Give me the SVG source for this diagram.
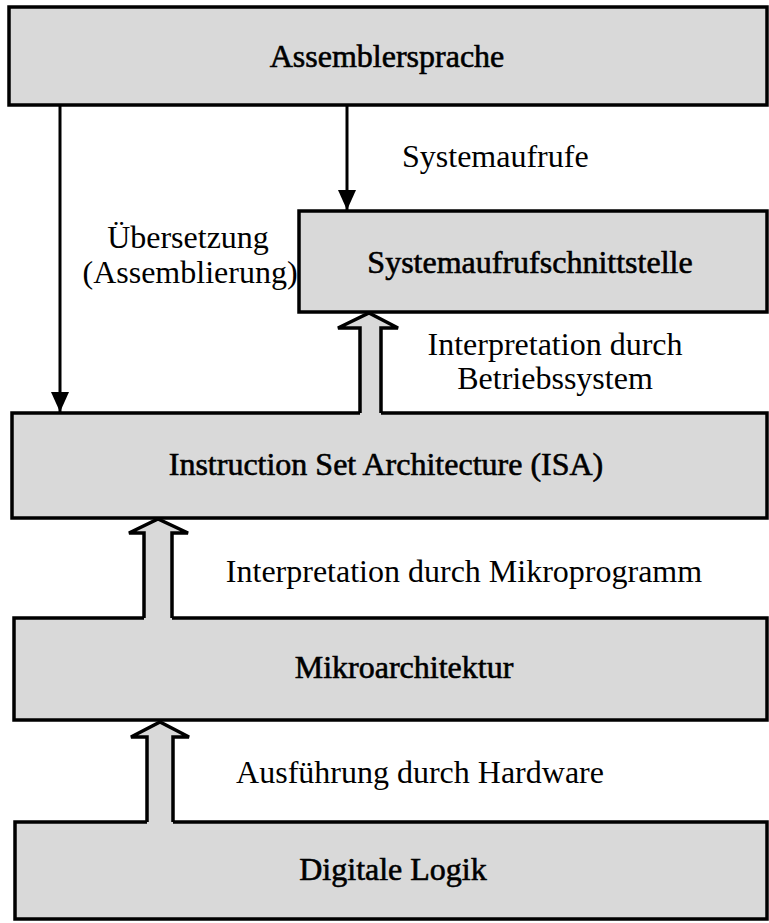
<svg xmlns="http://www.w3.org/2000/svg" width="769" height="923" viewBox="0 0 769 923">
<style>
.box{fill:#d9d9d9;stroke:#000;stroke-width:3.5}
.t{font-family:"Liberation Serif","Times New Roman",serif;font-size:32px;fill:#000}
.b{stroke:#000;stroke-width:0.6}
.c{text-anchor:middle}
.ln{stroke:#000;stroke-width:3;fill:none}
.hf{fill:#d9d9d9;stroke:none}
.ho{fill:none;stroke:#000;stroke-width:3.5;stroke-linejoin:miter}
</style>
<defs>
<marker id="ah" markerUnits="userSpaceOnUse" markerWidth="20" markerHeight="18" refX="20" refY="9" orient="auto" viewBox="0 0 20 18">
<path d="M0,0 L20,9 L0,18 Z" fill="#000"/>
</marker>
</defs>
<rect width="769" height="923" fill="#fff"/>
<g id="n-assembler"><rect class="box" x="9" y="7" width="758" height="98"/><text class="t c b" x="387" y="67">Assemblersprache</text></g>
<g id="n-sys"><rect class="box" x="299" y="211" width="468" height="101"/><text class="t c b" x="530" y="273">Systemaufrufschnittstelle</text></g>
<g id="n-isa"><rect class="box" x="12" y="413" width="755" height="105"/><text class="t c b" x="386" y="475">Instruction Set Architecture (ISA)</text></g>
<g id="n-mikro"><rect class="box" x="14" y="618" width="753" height="102"/><text class="t c b" x="404" y="678">Mikroarchitektur</text></g>
<g id="n-digital"><rect class="box" x="15" y="822" width="752" height="97"/><text class="t c b" x="393" y="880">Digitale Logik</text></g>
<g id="connectors">
<line class="ln" x1="60" y1="105" x2="60" y2="412" marker-end="url(#ah)"/>
<line class="ln" x1="347" y1="105" x2="347" y2="210" marker-end="url(#ah)"/>
<polygon class="hf" points="360,416 360,328 338,328 369,313 398,328 381,328 381,416"/>
<polyline class="ho" points="360,413 360,328 338,328 369,313 398,328 381,328 381,413"/>
<polygon class="hf" points="144,621 144,533 129,533 158,519 188,533 172,533 172,621"/>
<polyline class="ho" points="144,618 144,533 129,533 158,519 188,533 172,533 172,618"/>
<polygon class="hf" points="147,825 147,737 131,737 160,722 189,737 173,737 173,825"/>
<polyline class="ho" points="147,822 147,737 131,737 160,722 189,737 173,737 173,822"/>
</g>
<g id="labels">
<text class="t" x="402" y="167">Systemaufrufe</text>
<text class="t c" x="188" y="248">Übersetzung</text>
<text class="t c" x="190" y="283">(Assemblierung)</text>
<text class="t c" x="555" y="355">Interpretation durch</text>
<text class="t c" x="555" y="389">Betriebssystem</text>
<text class="t c" x="464" y="582">Interpretation durch Mikroprogramm</text>
<text class="t c" x="420" y="783">Ausführung durch Hardware</text>
</g>
</svg>
